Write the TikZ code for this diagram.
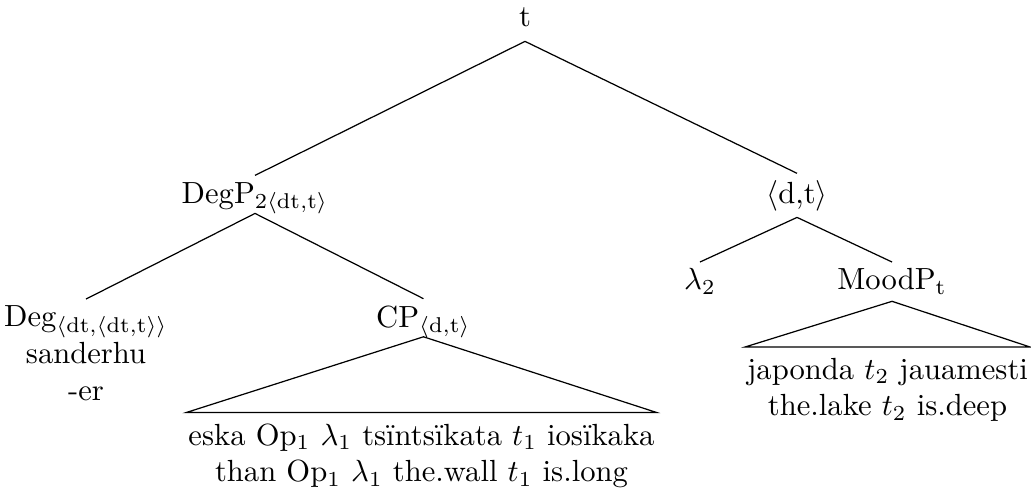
\documentclass[tikz,border=0pt]{standalone}
\usepackage{amssymb,amsmath}
\usepackage{tikz}

\begin{document}
\begin{tikzpicture}[
    lab/.style={inner sep=2pt,anchor=base},
    roof/.style={inner xsep=0.5pt,inner ysep=3.4pt,anchor=north,align=center}]
\useasboundingbox (0,0) rectangle (11.842,5.617);

% Top of the tree
\node[lab,text depth=2.5pt] (root) at (6.030,5.307) {t};
\node[lab,text depth=1.2pt] (degp) at (2.929,3.285) {DegP$_{2\langle\mathrm{dt,t}\rangle}$};
\node[lab] (dt) at (9.155,3.285) {$\langle$d,t$\rangle$};

% Degree phrase
\node[inner sep=2pt,anchor=north,align=center] (deg) at (0.988,2.182)
  {Deg$_{\langle\mathrm{dt},\langle\mathrm{dt,t}\rangle\rangle}$\\sanderhu\\-er};
\node[lab,text depth=1pt] (cp) at (4.864,1.861) {CP$_{\langle\mathrm{d,t}\rangle}$};
\node[roof] (cptext) at (4.841,0.879)
  {eska Op$_1$ $\lambda_1$ tsïntsïkata $t_1$ iosïkaka\\
   than Op$_1$ $\lambda_1$ the.wall $t_1$ is.long};

% Lambda and mood phrase
\node[lab] (lam) at (8.040,2.286) {$\lambda_2$};
\node[lab] (moodp) at (10.246,2.286) {MoodP$_\mathrm{t}$};
\node[roof] (moodtext) at (10.194,1.631)
  {japonda $t_2$ jauamesti\\the.lake $t_2$ is.deep};

% Branches
\draw (root.south) -- (degp.north);
\draw (root.south) -- (dt.north);
\draw (degp.south) -- (deg.north);
\draw (degp.south) -- (cp.north);
\draw (dt.south) -- (lam.north);
\draw (dt.south) -- (moodp.north);

% Roofs
\draw (cp.south) -- (cptext.north west) -- (cptext.north east) -- cycle;
\draw (moodp.south) -- (moodtext.north west) -- (moodtext.north east) -- cycle;

\end{tikzpicture}
\end{document}
